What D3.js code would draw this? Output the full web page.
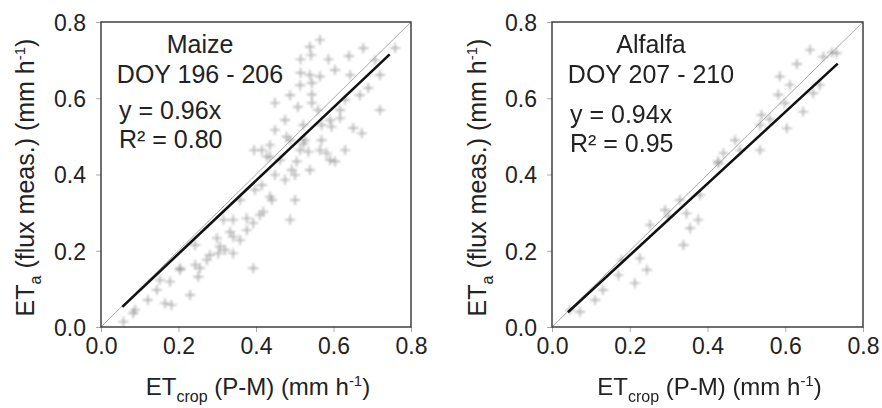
<!DOCTYPE html>
<html>
<head>
<meta charset="utf-8">
<script src="https://cdn.jsdelivr.net/npm/d3@7"></script>
<style>
  html, body { margin: 0; padding: 0; background: #ffffff; }
  svg { display: block; font-family: "Liberation Sans", Arial, Helvetica, sans-serif; }
</style>
</head>
<body>
<svg id="chart" width="882" height="408"></svg>
<script>
// ---------- data ----------
const axisTicks = [0.0, 0.2, 0.4, 0.6, 0.8];
const tickLabels = ["0.0", "0.2", "0.4", "0.6", "0.8"];

// Maize, DOY 196 - 206  (x = ETcrop P-M, y = ETa flux measured)
const maizeX = [0.515,0.542,0.587,0.515,0.640,0.677,0.565,0.539,0.565,0.544,0.449,0.508,0.544,0.643,0.690,0.617,
  0.522,0.569,0.595,0.673,0.651,0.479,0.569,0.522,0.395,0.415,0.535,0.582,0.436,0.505,0.604,0.617,
  0.428,0.492,0.436,0.501,0.419,0.488,0.376,0.341,0.316,0.393,0.376,0.341,0.299,0.307,0.341,0.303,
  0.273,0.393,0.204,0.255,0.251,0.178,0.152,0.230,0.165,0.182,0.083,0.058,0.144,
  0.514,0.488,0.560,0.591,0.630,0.668,0.707,0.720,0.759,0.475,0.449,0.488,0.514,0.462,0.501,0.475,
  0.449,0.415,0.397,0.441,0.359,0.539,0.526,0.565,0.359,0.320,0.281,0.243,0.204,0.243,0.333,0.121,
  0.088,0.410,0.591,0.630,0.539,0.604,0.436,0.544,0.720];
const maizeY = [0.702,0.713,0.702,0.667,0.711,0.731,0.753,0.735,0.657,0.640,0.588,0.577,0.588,0.661,0.627,0.569,
  0.530,0.530,0.525,0.508,0.522,0.499,0.490,0.481,0.464,0.464,0.460,0.456,0.447,0.434,0.434,0.548,
  0.447,0.412,0.342,0.333,0.302,0.281,0.285,0.281,0.281,0.273,0.254,0.237,0.233,0.211,0.193,0.193,
  0.176,0.154,0.154,0.154,0.132,0.119,0.123,0.084,0.062,0.058,0.036,0.014,0.097,
  0.634,0.608,0.569,0.543,0.596,0.608,0.700,0.661,0.732,0.543,0.517,0.490,0.464,0.438,0.399,0.386,
  0.399,0.372,0.360,0.333,0.333,0.412,0.490,0.464,0.228,0.202,0.189,0.163,0.150,0.215,0.249,0.071,
  0.045,0.294,0.438,0.464,0.661,0.674,0.477,0.610,0.569];

// Alfalfa, DOY 207 - 210
const alfalfaX = [0.664,0.698,0.732,0.586,0.612,0.689,0.582,0.672,0.599,0.646,0.539,0.535,0.604,0.471,0.535,0.441,
  0.427,0.428,0.329,0.346,0.376,0.355,0.338,0.226,0.179,0.244,0.171,0.213,0.072,0.046,
  0.720,0.630,0.484,0.381,0.291,0.252,0.131,0.111,0.300,0.560];
const alfalfaY = [0.727,0.709,0.718,0.657,0.635,0.635,0.609,0.613,0.587,0.565,0.556,0.530,0.521,0.490,0.464,0.456,
  0.434,0.429,0.333,0.298,0.281,0.259,0.215,0.180,0.176,0.150,0.136,0.115,0.040,0.045,
  0.720,0.690,0.464,0.346,0.307,0.268,0.097,0.071,0.290,0.545];

// Fitted lines through the origin and their drawn x ranges
const fitSlopes = [0.96, 0.94];
const fitRanges = [[0.055, 0.745], [0.041, 0.735]];
const cropNames = ["Maize", "Alfalfa"];
const doyLabels = ["DOY 196 - 206", "DOY 207 - 210"];
const eqLabels = ["y = 0.96x", "y = 0.94x"];
const r2Labels = ["R\u00B2 = 0.80", "R\u00B2 = 0.95"];

// ---------- layout ----------
const svg = d3.select("#chart");
const panels = [
  { x0: 101, x1: 411, y0: 22, y1: 327, xs: maizeX, ys: maizeY, ytitleX: 25, textDy: 0 },
  { x0: 552, x1: 863, y0: 22, y1: 327, xs: alfalfaX, ys: alfalfaY, ytitleX: 477, textDy: 4 }
];

const defs = svg.append("defs");
defs.append("filter").attr("id", "soft").attr("x", "-50%").attr("y", "-50%").attr("width", "200%").attr("height", "200%")
  .append("feGaussianBlur").attr("stdDeviation", 0.9);

panels.forEach((p, i) => {
  const x = d3.scaleLinear().domain([0, 0.8]).range([p.x0, p.x1]);
  const y = d3.scaleLinear().domain([0, 0.8]).range([p.y1, p.y0]);
  const g = svg.append("g");

  // axes (outward ticks, labels)
  const xAxis = g.append("g").attr("transform", `translate(0,${p.y1})`)
    .call(d3.axisBottom(x).tickValues(axisTicks).tickFormat((d, k) => tickLabels[k]).tickSize(5).tickPadding(6));
  const yAxis = g.append("g").attr("transform", `translate(${p.x0},0)`)
    .call(d3.axisLeft(y).tickValues(axisTicks).tickFormat((d, k) => tickLabels[k]).tickSize(5).tickPadding(10));
  [xAxis, yAxis].forEach(a => {
    a.select(".domain").remove();
    a.selectAll(".tick line").attr("stroke", "#aaa").attr("stroke-width", 1);
    a.selectAll(".tick text").attr("fill", "#222").style("font-size", "23px")
      .style("font-family", "'Liberation Sans', Arial, sans-serif");
  });
  yAxis.selectAll(".tick text").attr("dy", "0.36em");

  // 1:1 line
  g.append("line")
    .attr("x1", x(0)).attr("y1", y(0)).attr("x2", x(0.8)).attr("y2", y(0.8))
    .attr("stroke", "#a8a8a8").attr("stroke-width", 1);

  // points
  const pts = p.xs.map((v, k) => [v, p.ys[k]]);
  const s = 5;
  g.append("g").attr("filter", "url(#soft)")
    .selectAll("path").data(pts).join("path")
    .attr("d", d => {
      const cx = x(d[0]), cy = y(d[1]);
      return `M${cx - s},${cy}H${cx + s}M${cx},${cy - s}V${cy + s}`;
    })
    .attr("stroke", "#8f8f8f").attr("stroke-width", 1.4).attr("fill", "none").attr("opacity", 0.75);

  // regression line
  const r = fitRanges[i];
  g.append("line")
    .attr("x1", x(r[0])).attr("y1", y(fitSlopes[i] * r[0]))
    .attr("x2", x(r[1])).attr("y2", y(fitSlopes[i] * r[1]))
    .attr("stroke", "#111").attr("stroke-width", 2.6);

  // frame
  g.append("rect").attr("x", p.x0).attr("y", p.y0).attr("width", p.x1 - p.x0).attr("height", p.y1 - p.y0)
    .attr("fill", "none").attr("stroke", "#333").attr("stroke-width", 1.4);

  // annotations
  const cx = p.x0 + 99;
  g.append("text").attr("x", cx).attr("y", 53).attr("text-anchor", "middle")
    .attr("fill", "#222").style("font-size", "25px").text(cropNames[i]);
  g.append("text").attr("x", cx).attr("y", 83).attr("text-anchor", "middle")
    .attr("fill", "#222").style("font-size", "25px").text(doyLabels[i]);
  g.append("text").attr("x", p.x0 + 18).attr("y", 119 + p.textDy)
    .attr("fill", "#222").style("font-size", "25px").text(eqLabels[i]);
  g.append("text").attr("x", p.x0 + 18).attr("y", 148 + p.textDy)
    .attr("fill", "#222").style("font-size", "25px").text(r2Labels[i]);

  // x title
  const xt = g.append("text").attr("x", (p.x0 + p.x1) / 2 + 2).attr("y", 395).attr("text-anchor", "middle")
    .attr("fill", "#222").style("font-size", "24px");
  xt.append("tspan").text("ET");
  xt.append("tspan").attr("dy", 7).style("font-size", "16px").text("crop");
  xt.append("tspan").attr("dy", -7).text(" (P-M) (mm h");
  xt.append("tspan").attr("dy", -9).style("font-size", "15px").text("-1");
  xt.append("tspan").attr("dy", 9).text(")");

  // y title
  const yc = (p.y0 + p.y1) / 2 + 3;
  const yt = g.append("text").attr("transform", `translate(${p.ytitleX + 9},${yc}) rotate(-90)`)
    .attr("text-anchor", "middle").attr("fill", "#222").style("font-size", "25px");
  yt.append("tspan").text("ET");
  yt.append("tspan").attr("dy", 7).style("font-size", "16px").text("a");
  yt.append("tspan").attr("dy", -7).text(" (flux meas.) (mm h");
  yt.append("tspan").attr("dy", -9).style("font-size", "15px").text("-1");
  yt.append("tspan").attr("dy", 9).text(")");
});
</script>
</body>
</html>
